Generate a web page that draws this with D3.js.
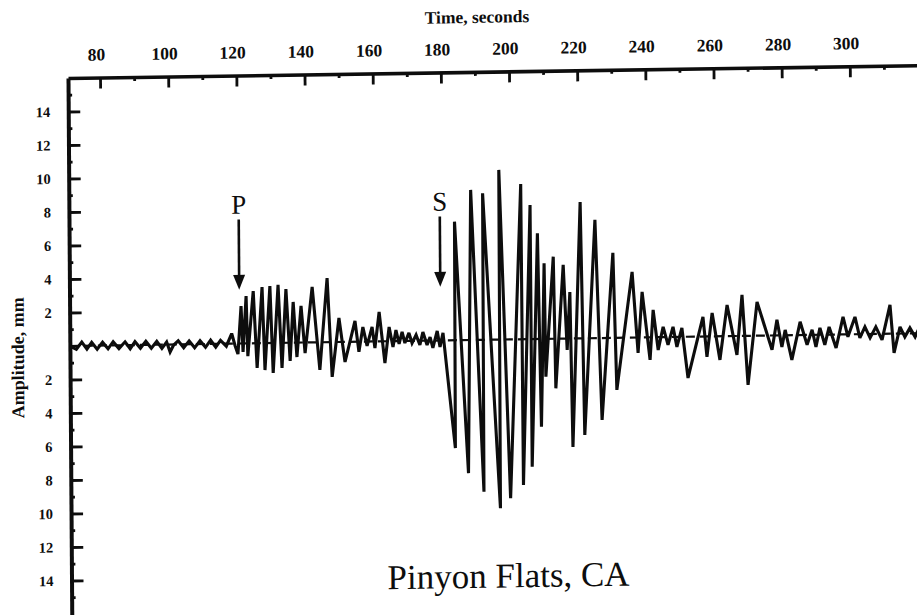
<!DOCTYPE html>
<html>
<head>
<meta charset="utf-8">
<script src="https://cdn.jsdelivr.net/npm/d3@7"></script>
<style>
  html, body { margin: 0; padding: 0; background: #ffffff; }
  svg { display: block; }
</style>
</head>
<body>
<svg id="chart" width="917" height="615"></svg>
<script>
// ---------------- DATA ----------------
const timeMajorTicks = [80, 100, 120, 140, 160, 180, 200, 220, 240, 260, 280, 300];
const timeMinorTicks = [90, 110, 130, 150, 170, 190, 210, 230, 250, 270, 290, 310];
const ampMajorTicks = [-14, -12, -10, -8, -6, -4, -2, 2, 4, 6, 8, 10, 12, 14];
const ampMinorTicks = [-15, -13, -11, -9, -7, -5, -3, -1, 1, 3, 5, 7, 9, 11, 13, 15];

// [time (s), amplitude (mm)]
const preEventTrace = [
  [70.6, 0.0], [72.5, -0.2], [74.1, 0.22], [75.6, -0.2], [77.0, 0.2], [78.6, -0.22],
  [80.2, 0.2], [81.8, -0.2], [83.3, 0.22], [85.0, -0.2], [86.8, 0.2], [88.3, -0.22],
  [89.7, 0.2], [91.3, -0.2], [92.9, 0.22], [94.5, -0.2], [96.1, 0.2], [97.6, -0.22],
  [99.0, 0.15], [100.0, -0.45], [101.0, -0.05], [102.4, 0.22], [104.0, -0.2], [105.6, 0.2],
  [107.2, -0.22], [108.8, 0.2], [110.4, -0.2], [111.9, 0.22], [113.4, -0.2], [114.8, 0.2],
  [116.5, -0.15], [118.1, 0.6]
];
const pWaveTrace = [
  [119.1, -0.15], [119.9, -0.63], [120.9, 2.23], [121.4, -0.51], [122.4, 2.83], [122.8, -0.76],
  [124.5, 3.12], [125.5, -1.48], [127.1, 3.35], [127.8, -1.61], [129.4, 3.40], [130.2, -1.79],
  [131.8, 3.46], [132.8, -1.50], [134.1, 3.21], [135.2, -1.09], [136.2, 2.43], [137.2, -0.86],
  [138.5, 2.19], [139.6, -0.63], [141.8, 3.31], [143.9, -1.65], [146.2, 3.83], [147.5, -2.08],
  [149.6, 1.43], [151.3, -1.20], [154.3, 1.24], [155.4, -0.61], [156.6, 0.87], [157.8, -0.26],
  [159.3, 0.87], [160.1, -0.39], [161.4, 1.76], [163.0, -1.30], [164.3, 0.85], [165.4, -0.35],
  [166.3, 0.66], [167.2, -0.17], [168.1, 0.54], [168.9, -0.12], [170.1, 0.48], [171.0, -0.13],
  [172.2, 0.35], [173.3, -0.25], [174.2, 0.52], [175.4, -0.26], [176.3, 0.21], [177.1, -0.44],
  [178.4, 0.57], [179.2, -0.39], [180.1, 0.45]
];
const sWaveTrace = [
  [183.5, -6.43], [183.7, 7.08], [187.3, -7.95], [188.5, 8.96], [191.8, -9.07], [192.0, 8.75],
  [196.6, -10.07], [196.8, 10.13], [199.6, -9.48], [203.2, 9.27], [203.4, -8.70], [205.9, 8.01],
  [206.0, -7.62], [208.0, 6.31], [208.8, -5.24], [209.9, 4.52], [210.2, -2.26], [212.6, 4.90],
  [213.1, -2.96], [215.5, 4.40], [216.5, -0.68], [217.4, 2.78], [218.0, -6.48], [220.6, 8.14],
  [221.5, -5.77], [224.9, 7.06], [226.6, -4.89], [230.1, 5.07], [231.0, -3.11], [235.7, 3.92],
  [237.3, -0.92], [238.6, 2.72], [240.8, -1.35], [241.8, 1.63]
];
const codaTrace = [
  [243.2, -0.76], [244.7, 0.61], [246.1, -0.47], [247.6, 0.60], [248.7, -0.60], [250.2, 0.53],
  [251.9, -2.46], [256.4, 1.17], [257.5, -1.22], [259.1, 1.40], [261.3, -1.41], [263.5, 1.86],
  [266.3, -1.13], [267.9, 2.45], [269.5, -2.93], [272.3, 2.02], [276.6, -0.86], [278.1, 0.93],
  [279.5, -0.69], [280.5, 0.32], [282.4, -1.47], [284.9, 0.79], [286.9, -0.59], [288.4, 0.30],
  [289.5, -0.72], [290.7, 0.41], [292.1, -0.61], [293.4, 0.46], [295.4, -0.80], [297.5, 1.05],
  [298.9, -0.15], [301.0, 1.03], [302.4, -0.22], [303.9, 0.43], [305.4, -0.23], [307.1, 0.42],
  [308.9, -0.36], [311.3, 1.72], [312.4, -1.15], [314.2, 0.40], [315.6, -0.20], [317.1, 0.33],
  [318.6, -0.21], [320.0, 0.40]
];

const phaseNames = ["P", "S"];
const phaseArrivals = [120.4, 179.4];
const stationName = "Pinyon Flats, CA";
const xTitle = "Time, seconds";
const yTitle = "Amplitude, mm";

// ---------------- LAYOUT ----------------
const svg = d3.select("#chart");
svg.append("rect").attr("width", 917).attr("height", 615).attr("fill", "#ffffff");

// scanned page is slightly skewed
const g = svg.append("g").attr("transform", "matrix(1,-0.015,0.007,1,-0.55,1.02)");

const tMin = 70.6, tMax = 325, aMin = -16.5, aMax = 16;
const x = d3.scaleLinear().domain([tMin, tMax]).range([68, 935]);
const y = d3.scaleLinear().domain([aMin, aMax]).range([622.4, 78]);

const serif = "'Liberation Serif', 'Times New Roman', serif";
const ink = "#0d0d0d";

// zero reference (dashed)
g.append("line")
  .attr("x1", x(tMin)).attr("x2", x(tMax))
  .attr("y1", y(0)).attr("y2", y(0))
  .attr("stroke", ink).attr("stroke-width", 2.2)
  .attr("stroke-dasharray", "9,5");

// top axis (major)
const topAxis = g.append("g")
  .attr("transform", `translate(0,${y(aMax)})`)
  .call(d3.axisTop(x).tickValues(timeMajorTicks).tickSize(-11).tickSizeOuter(0)
        .tickPadding(17).tickFormat(d3.format("d")));
topAxis.select(".domain").attr("stroke", ink).attr("stroke-width", 3.6);
topAxis.selectAll(".tick line").attr("stroke", ink).attr("stroke-width", 2.8);
topAxis.selectAll(".tick text")
  .attr("dx", -4).attr("fill", ink)
  .style("font-family", serif).style("font-size", "17.5px").style("font-weight", "bold");

// top axis (minor)
const topMinor = g.append("g")
  .attr("transform", `translate(0,${y(aMax)})`)
  .call(d3.axisTop(x).tickValues(timeMinorTicks).tickSize(-4).tickSizeOuter(0).tickFormat(""));
topMinor.select(".domain").remove();
topMinor.selectAll(".tick line").attr("stroke", ink).attr("stroke-width", 2.8);

// left axis (major)
const leftAxis = g.append("g")
  .attr("transform", `translate(${x(tMin)},0)`)
  .call(d3.axisLeft(y).tickValues(ampMajorTicks).tickSize(-12).tickSizeOuter(0)
        .tickPadding(18).tickFormat(d => Math.abs(d)));
leftAxis.select(".domain").attr("stroke", ink).attr("stroke-width", 4);
leftAxis.selectAll(".tick line").attr("stroke", ink).attr("stroke-width", 2.8);
leftAxis.selectAll(".tick text")
  .attr("fill", ink)
  .style("font-family", serif).style("font-size", "14.5px").style("font-weight", "bold");

// left axis (minor)
const leftMinor = g.append("g")
  .attr("transform", `translate(${x(tMin)},0)`)
  .call(d3.axisLeft(y).tickValues(ampMinorTicks).tickSize(-4).tickSizeOuter(0).tickFormat(""));
leftMinor.select(".domain").remove();
leftMinor.selectAll(".tick line").attr("stroke", ink).attr("stroke-width", 2.8);

// seismogram trace
const trace = [...preEventTrace, ...pWaveTrace, ...sWaveTrace, ...codaTrace];
const line = d3.line().x(d => x(d[0])).y(d => y(d[1]));
g.append("path")
  .datum(trace)
  .attr("d", line)
  .attr("fill", "none")
  .attr("stroke", ink)
  .attr("stroke-width", 3.1)
  .attr("stroke-linejoin", "miter")
  .attr("stroke-miterlimit", 3);

// phase arrivals
const arrowTop = 7.4, arrowTip = 3.2, labelAmp = 7.75, headLen = 15, headHalf = 6;
phaseNames.forEach((name, i) => {
  const px = x(phaseArrivals[i]);
  const tipY = y(arrowTip);
  g.append("line")
    .attr("x1", px).attr("x2", px)
    .attr("y1", y(arrowTop)).attr("y2", tipY - headLen + 2)
    .attr("stroke", ink).attr("stroke-width", 2.6);
  g.append("path")
    .attr("d", `M${px - headHalf},${tipY - headLen}L${px + headHalf},${tipY - headLen}L${px},${tipY}Z`)
    .attr("fill", ink);
  g.append("text")
    .attr("x", px).attr("y", y(labelAmp))
    .attr("text-anchor", "middle")
    .attr("fill", ink)
    .style("font-family", serif).style("font-size", "27px")
    .text(name);
});

// titles
g.append("text")
  .attr("x", 477.4).attr("y", 29)
  .attr("text-anchor", "middle").attr("fill", ink)
  .style("font-family", serif).style("font-size", "17.5px").style("font-weight", "bold")
  .text(xTitle);

g.append("text")
  .attr("transform", "translate(22,357) rotate(-90)")
  .attr("text-anchor", "middle").attr("fill", ink)
  .style("font-family", serif).style("font-size", "18px").style("font-weight", "bold")
  .text(yTitle);

g.append("text")
  .attr("x", 505).attr("y", 594)
  .attr("text-anchor", "middle").attr("fill", ink)
  .style("font-family", serif).style("font-size", "35px")
  .text(stationName);
</script>
</body>
</html>
